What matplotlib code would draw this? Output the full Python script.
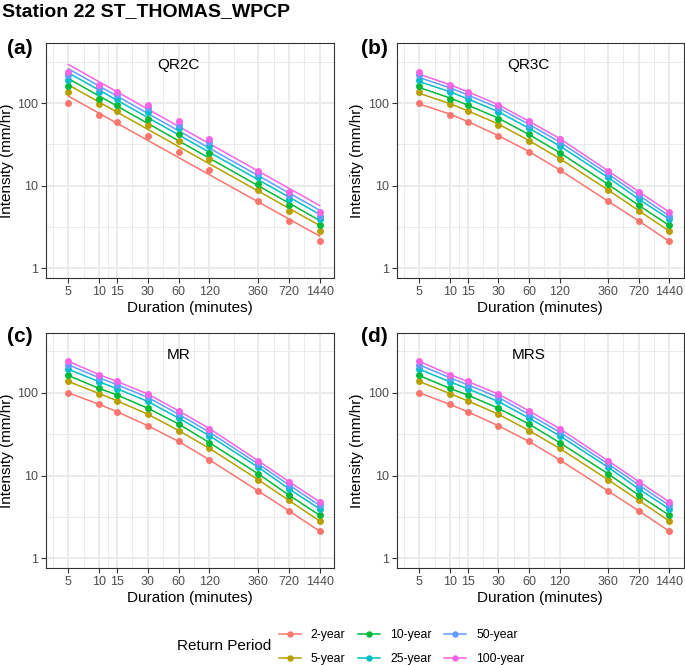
import matplotlib
matplotlib.use("Agg")
import matplotlib.pyplot as plt
import numpy as np
from matplotlib.ticker import FixedLocator, NullFormatter
from matplotlib.lines import Line2D

plt.rcParams["font.family"] = ["Liberation Sans", "DejaVu Sans"]

# ---------------- data ----------------
durations = [5, 10, 15, 30, 60, 120, 360, 720, 1440]
duration_labels = ["5", "10", "15", "30", "60", "120", "360", "720", "1440"]
return_periods = ["2-year", "5-year", "10-year", "25-year", "50-year", "100-year"]
colors = ["#F8766D", "#B79F00", "#00BA38", "#00BFC4", "#619CFF", "#F564E3"]

# observed intensities (mm/hr) – same points in every panel
obs_2yr = [100, 72.5, 59, 40, 25.8, 15.5, 6.5, 3.75, 2.12]
obs_5yr = [137, 98, 80, 55, 35, 21.3, 8.9, 5.0, 2.82]
obs_10yr = [162, 113, 94, 65, 42, 25, 10.5, 5.8, 3.3]
obs_25yr = [193, 136, 112, 78.5, 49.5, 30.3, 12.6, 6.9, 3.95]
obs_50yr = [218, 152, 125, 88, 55, 33.5, 13.8, 7.7, 4.35]
obs_100yr = [240, 166, 137, 96.5, 60.5, 37, 15.1, 8.45, 4.8]

# QR2C fitted line (straight in log-log), values at 5 and 1440 minutes
qr2c_durations = [5, 1440]
qr2c_2yr = [122, 2.45]
qr2c_5yr = [167, 3.3]
qr2c_10yr = [199, 3.8]
qr2c_25yr = [234, 4.5]
qr2c_50yr = [262, 5.05]
qr2c_100yr = [295, 5.75]

# QR3C fitted values
qr3c_2yr = [98, 74, 60, 40.5, 26, 15.6, 6.5, 3.75, 2.12]
qr3c_5yr = [132, 99, 81, 56, 35.3, 21.4, 8.9, 5.0, 2.82]
qr3c_10yr = [155, 116, 95, 66, 41.8, 25.3, 10.4, 5.8, 3.3]
qr3c_25yr = [183, 138, 113, 79, 49.8, 30.5, 12.6, 6.9, 3.95]
qr3c_50yr = [205, 154, 126, 88, 55.5, 34, 13.9, 7.7, 4.3]
qr3c_100yr = [225, 168, 138, 96, 60.5, 37.5, 15.2, 8.5, 4.8]

# MR and MRS fitted values (pass through the observations)
mr_fits = [obs_2yr, obs_5yr, obs_10yr, obs_25yr, obs_50yr, obs_100yr]
mrs_fits = [obs_2yr, obs_5yr, obs_10yr, obs_25yr, obs_50yr, obs_100yr]

observed = [obs_2yr, obs_5yr, obs_10yr, obs_25yr, obs_50yr, obs_100yr]
panels = [
    ("(a)", "QR2C", qr2c_durations, [qr2c_2yr, qr2c_5yr, qr2c_10yr, qr2c_25yr, qr2c_50yr, qr2c_100yr]),
    ("(b)", "QR3C", durations, [qr3c_2yr, qr3c_5yr, qr3c_10yr, qr3c_25yr, qr3c_50yr, qr3c_100yr]),
    ("(c)", "MR", durations, mr_fits),
    ("(d)", "MRS", durations, mrs_fits),
]

# ---------------- layout ----------------
W, H = 685, 665
fig = plt.figure(figsize=(W / 100, H / 100), dpi=100)

def frac_box(l, r, t, b):
    return [l / W, 1 - b / H, (r - l) / W, (b - t) / H]

boxes = [
    frac_box(45.7, 334.0, 43.3, 278.3),
    frac_box(396.7, 683.5, 43.3, 278.3),
    frac_box(45.7, 334.0, 332.7, 568.3),
    frac_box(396.7, 683.5, 332.7, 568.3),
]
label_pos = [(7, 48), (361, 48), (7, 337), (361, 337)]
ylabel_x = [-0.110, -0.114, -0.110, -0.114]

x_major = np.log10(durations)
x_minor_log = np.concatenate([[x_major[0] - (x_major[1] - x_major[0]) / 2],
                              (x_major[:-1] + x_major[1:]) / 2])
x_minor = 10 ** x_minor_log
y_major = [1, 10, 100]
y_minor = [10 ** 0.5, 10 ** 1.5, 10 ** 2.5]

grid_col = "#EBEBEB"
for (lab, name, fit_x, fits), box, lp, ylx in zip(panels, boxes, label_pos, ylabel_x):
    ax = fig.add_axes(box)
    ax.set_xscale("log")
    ax.set_yscale("log")
    ax.set_xlim(3.0, 1990)
    ax.set_ylim(0.755, 533)
    ax.set_facecolor("white")

    ax.xaxis.set_major_locator(FixedLocator(durations))
    ax.set_xticklabels(duration_labels)
    ax.xaxis.set_minor_locator(FixedLocator(x_minor))
    ax.xaxis.set_minor_formatter(NullFormatter())
    ax.yaxis.set_major_locator(FixedLocator(y_major))
    ax.set_yticklabels(["1", "10", "100"])
    ax.yaxis.set_minor_locator(FixedLocator(y_minor))
    ax.yaxis.set_minor_formatter(NullFormatter())

    ax.grid(which="major", color=grid_col, lw=1.4, zorder=0)
    ax.grid(which="minor", color=grid_col, lw=0.7, zorder=0)
    ax.set_axisbelow(True)
    ax.tick_params(which="major", length=3.5, width=0.8, color="#333333",
                   labelsize=9, labelcolor="#4D4D4D", pad=2)
    ax.tick_params(which="minor", length=0)
    for s in ax.spines.values():
        s.set_color("#333333")
        s.set_linewidth(0.8)

    for obs, fit, c in zip(observed, fits, colors):
        ax.plot(fit_x, fit, color=c, lw=1.1, zorder=3)
        ax.plot(durations, obs, "o", color=c, ms=5.0, mec="none", zorder=4)

    ax.text(60, 290, name, ha="center", va="center", fontsize=11, color="black")
    ax.set_xlabel("Duration (minutes)", fontsize=11, labelpad=2)
    ax.set_ylabel("Intensity (mm/hr)", fontsize=11)
    ax.yaxis.set_label_coords(ylx, 0.5)

    fig.text(lp[0] / W, 1 - lp[1] / H, lab, fontsize=15, fontweight="bold",
             ha="left", va="center")

fig.text(2 / W, 1 - 12 / H, "Station 22 ST_THOMAS_WPCP", fontsize=14,
         fontweight="bold", ha="left", va="center")

# legend
handles = [Line2D([0], [0], color=c, lw=1.1, marker="o", ms=4.6, mec="none")
           for c in colors]
fig.legend(handles, return_periods, loc="upper left", ncol=3, frameon=False,
           bbox_to_anchor=(279 / W, 1 - 629 / H), fontsize=8.8,
           handlelength=1.8, handletextpad=0.8, columnspacing=1.05,
           labelspacing=1.0, borderpad=0, borderaxespad=0)
fig.text(271 / W, 1 - 646 / H, "Return Period", fontsize=11, ha="right", va="center")

fig.savefig("out.png", dpi=100)
